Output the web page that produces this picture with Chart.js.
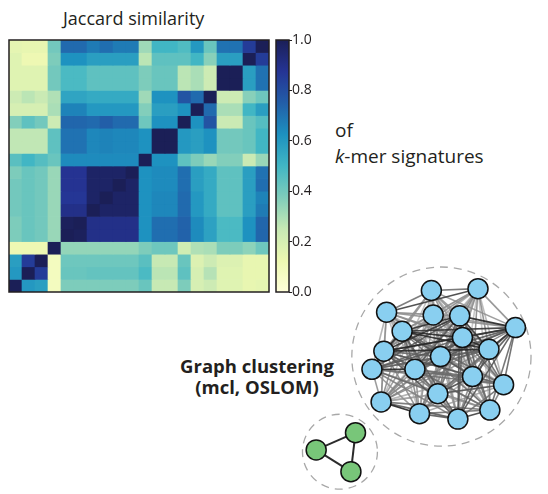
<!DOCTYPE html>
<html>
<head>
<meta charset="utf-8">
<script src="https://cdn.jsdelivr.net/npm/chart.js@4.4.1/dist/chart.umd.min.js"></script>
<style>
  html, body { margin: 0; padding: 0; background: #ffffff; }
  body { width: 548px; height: 494px; position: relative; overflow: hidden; font-family: "Open Sans", "Noto Sans", sans-serif; color: #231f20; }
  .box { position: absolute; }
  .txt { position: absolute; white-space: nowrap; }
</style>
</head>
<body>
<div class="txt" id="title" style="left:63px; top:6px; font-size:18px; line-height:25px;">Jaccard similarity</div>
<div class="txt" style="left:335px; top:117px; font-size:19px; line-height:26px;">of<br><i>k</i>-mer signatures</div>
<div class="txt" style="left:162px; top:355px; width:190px; text-align:center; font-size:18.5px; font-weight:bold; line-height:21px;">Graph clustering<br>(mcl, OSLOM)</div>

<div class="box" style="left:0px; top:30px;"><canvas id="heat" width="280" height="270"></canvas></div>
<div class="box" style="left:268px; top:0px;"><canvas id="cbar" width="62" height="310"></canvas></div>
<div class="box" style="left:280px; top:250px;"><canvas id="net" width="268" height="244"></canvas></div>

<script>
// ---------------- DATA ----------------
// Jaccard similarity matrix, rows as seen from top to bottom, columns left to right
const columnLabels = ['c1','c2','c3','c4','c5','c6','c7','c8','c9','c10','c11','c12','c13','c14','c15','c16','c17','c18','c19','c20'];
const jaccardRows = [
  [0.15,0.14,0.14,0.40,0.72,0.72,0.68,0.71,0.68,0.68,0.32,0.50,0.50,0.47,0.60,0.42,0.70,0.70,0.85,1.00],
  [0.17,0.12,0.12,0.38,0.62,0.62,0.58,0.58,0.58,0.58,0.27,0.44,0.44,0.44,0.50,0.36,0.58,0.58,1.00,0.85],
  [0.17,0.17,0.17,0.40,0.48,0.48,0.44,0.44,0.44,0.44,0.38,0.42,0.42,0.27,0.30,0.23,1.00,1.00,0.58,0.70],
  [0.17,0.17,0.17,0.40,0.48,0.48,0.44,0.44,0.44,0.44,0.38,0.42,0.42,0.27,0.30,0.23,1.00,1.00,0.58,0.70],
  [0.23,0.27,0.24,0.29,0.56,0.56,0.54,0.54,0.54,0.54,0.32,0.62,0.62,0.78,0.72,1.00,0.23,0.23,0.36,0.41],
  [0.20,0.20,0.20,0.30,0.66,0.66,0.60,0.60,0.60,0.60,0.37,0.58,0.58,0.62,1.00,0.72,0.30,0.30,0.50,0.58],
  [0.37,0.44,0.40,0.23,0.73,0.73,0.72,0.75,0.72,0.72,0.41,0.62,0.62,1.00,0.62,0.78,0.24,0.24,0.42,0.46],
  [0.26,0.26,0.26,0.44,0.70,0.70,0.65,0.66,0.65,0.65,0.62,1.00,1.00,0.60,0.58,0.62,0.40,0.40,0.42,0.50],
  [0.26,0.26,0.26,0.44,0.70,0.70,0.65,0.66,0.65,0.65,0.62,1.00,1.00,0.60,0.58,0.62,0.40,0.40,0.42,0.50],
  [0.45,0.50,0.46,0.42,0.64,0.64,0.64,0.64,0.64,0.64,1.00,0.62,0.62,0.44,0.38,0.33,0.37,0.37,0.24,0.33],
  [0.38,0.42,0.40,0.33,0.88,0.88,0.97,0.97,0.97,1.00,0.62,0.64,0.64,0.71,0.58,0.54,0.44,0.44,0.58,0.70],
  [0.40,0.42,0.40,0.33,0.88,0.88,0.97,0.97,1.00,0.97,0.62,0.64,0.64,0.71,0.58,0.54,0.44,0.44,0.58,0.71],
  [0.40,0.42,0.40,0.33,0.87,0.87,0.97,1.00,0.97,0.97,0.62,0.65,0.65,0.72,0.60,0.54,0.44,0.44,0.58,0.66],
  [0.40,0.42,0.40,0.33,0.90,0.90,1.00,0.97,0.97,0.97,0.62,0.65,0.65,0.72,0.60,0.54,0.44,0.44,0.58,0.68],
  [0.38,0.42,0.40,0.33,0.99,1.00,0.90,0.90,0.90,0.90,0.62,0.71,0.71,0.74,0.64,0.57,0.48,0.48,0.62,0.73],
  [0.38,0.42,0.40,0.33,1.00,0.99,0.90,0.90,0.90,0.90,0.62,0.71,0.71,0.74,0.64,0.57,0.48,0.48,0.62,0.73],
  [0.12,0.12,0.12,1.00,0.34,0.34,0.34,0.34,0.34,0.34,0.38,0.41,0.41,0.22,0.29,0.30,0.38,0.38,0.35,0.41],
  [0.58,0.85,1.00,0.08,0.41,0.41,0.41,0.41,0.41,0.41,0.45,0.25,0.25,0.42,0.18,0.23,0.18,0.18,0.14,0.14],
  [0.60,1.00,0.85,0.08,0.42,0.42,0.43,0.43,0.43,0.43,0.48,0.27,0.27,0.44,0.20,0.28,0.17,0.17,0.14,0.14],
  [1.00,0.60,0.58,0.08,0.38,0.38,0.38,0.38,0.38,0.38,0.42,0.25,0.25,0.38,0.20,0.23,0.17,0.17,0.14,0.15]
];
const colorbarTicks = [0, 0.2, 0.4, 0.6, 0.8, 1.0];

// Graph layout (layout units), big cluster
const clusterAX = [153,204,104,155,184,245,121,187,101,216,163, 88,135,198,232,160, 98,140,217,182];
const clusterAY = [ 32, 30, 56, 59, 60, 73, 77, 84, 99, 97,105,119,119,127,136,146,155,168,164,174];
// small cluster
const clusterBX = [70, 27, 65];
const clusterBY = [189, 208, 232];
const clusterBEdges = [[0,1],[1,2],[0,2]];
// dashed cluster outlines: centre x, centre y, radius (layout units)
const hullX = [164, 53];
const hullY = [105, 210];
const hullR = [98, 41];

// ---------------- COLOUR MAP (YlGnBu) ----------------
const cmapStops = ['#ffffd9','#edf8b1','#c7e9b4','#7fcdbb','#41b6c4','#1d91c0','#225ea8','#253494','#1b1f57'];
function hex2rgb(h){ return [parseInt(h.slice(1,3),16), parseInt(h.slice(3,5),16), parseInt(h.slice(5,7),16)]; }
function cmap(v){
  v = Math.max(0, Math.min(1, v));
  const n = cmapStops.length - 1;
  const p = v * n; const i = Math.min(n - 1, Math.floor(p)); const t = p - i;
  const a = hex2rgb(cmapStops[i]), b = hex2rgb(cmapStops[i+1]);
  return 'rgb(' + a.map((c,k) => Math.round(c + (b[k]-c)*t)).join(',') + ')';
}

Chart.defaults.font.family = '"Open Sans", "Noto Sans", sans-serif';
Chart.defaults.color = '#231f20';

const frame = {
  id: 'frame',
  afterDatasetsDraw(chart){
    const a = chart.chartArea, ctx = chart.ctx;
    ctx.save(); ctx.strokeStyle = '#231f20'; ctx.lineWidth = 1.5;
    ctx.strokeRect(a.left, a.top, a.right - a.left, a.bottom - a.top);
    ctx.restore();
  }
};

// ---------------- HEATMAP ----------------
new Chart(document.getElementById('heat'), {
  type: 'bar',
  data: {
    labels: columnLabels,
    datasets: jaccardRows.map((row, r) => ({
      label: 'row ' + (r+1),
      data: row.map(() => 1),
      backgroundColor: row.map(v => cmap(v)),
      borderWidth: 0,
      barPercentage: 1.0,
      categoryPercentage: 1.0,
      stack: 's'
    }))
  },
  options: {
    responsive: false, animation: false,
    layout: { padding: { left: 9, right: 11, top: 10, bottom: 8 } },
    plugins: { legend: { display: false }, tooltip: { enabled: false } },
    scales: {
      x: { display: false, stacked: true },
      y: { display: false, stacked: true, reverse: true, min: 0, max: jaccardRows.length }
    }
  },
  plugins: [frame]
});

// ---------------- COLOUR BAR ----------------
new Chart(document.getElementById('cbar'), {
  type: 'bar',
  data: {
    labels: [''],
    datasets: [{
      data: [[0, 1]],
      borderWidth: 0, barPercentage: 1.0, categoryPercentage: 1.0,
      backgroundColor(ctx){
        const area = ctx.chart.chartArea;
        if (!area) return '#ccc';
        const g = ctx.chart.ctx.createLinearGradient(0, area.bottom, 0, area.top);
        cmapStops.forEach((c, i) => g.addColorStop(i / (cmapStops.length - 1), c));
        return g;
      }
    }]
  },
  options: {
    responsive: false, animation: false,
    layout: { padding: { left: 8, right: 0, top: 40, bottom: 18 } },
    plugins: { legend: { display: false }, tooltip: { enabled: false } },
    scales: {
      x: { display: false },
      y: {
        position: 'right', min: 0, max: 1,
        afterFit(s){ s.width = 41; },
        afterBuildTicks(s){ s.ticks = colorbarTicks.map(v => ({ value: v })); },
        ticks: { callback: v => Number(v).toFixed(1), font: { size: 14 }, color: '#231f20', padding: 0 },
        grid: { drawOnChartArea: false, drawTicks: true, tickLength: 3, color: '#231f20', lineWidth: 1 },
        border: { display: false }
      }
    }
  },
  plugins: [frame]
});

// ---------------- NETWORK ----------------
const edgeSets = [];
const pairs = [];
for (let i = 0; i < clusterAX.length; i++) {
  for (let j = i + 1; j < clusterAX.length; j++) {
    const w = jaccardRows[jaccardRows.length - 1 - i][j];
    pairs.push([i, j, w]);
  }
}
// darker (stronger) edges first so they are drawn on top
pairs.sort((a, b) => b[2] - a[2]);
pairs.forEach(([i, j, w]) => {
  const g = Math.round(200 - 165 * Math.max(0, (w - 0.1) / 0.9));
  edgeSets.push({
    type: 'scatter', showLine: true, pointRadius: 0, borderWidth: 1.6, order: 2,
    borderColor: 'rgba(' + g + ',' + g + ',' + g + ',0.9)',
    data: [{ x: clusterAX[i], y: clusterAY[i] }, { x: clusterAX[j], y: clusterAY[j] }]
  });
});
clusterBEdges.forEach(([i, j]) => {
  edgeSets.push({
    type: 'scatter', showLine: true, pointRadius: 0, borderWidth: 2, borderColor: '#2b2b2b', order: 2,
    data: [{ x: clusterBX[i], y: clusterBY[i] }, { x: clusterBX[j], y: clusterBY[j] }]
  });
});

const hulls = {
  id: 'hulls',
  beforeDatasetsDraw(chart){
    const ctx = chart.ctx, xs = chart.scales.x, ys = chart.scales.y;
    ctx.save(); ctx.strokeStyle = '#a8a8a8'; ctx.lineWidth = 1.3; ctx.setLineDash([8, 6]);
    hullX.forEach((cx, k) => {
      const px = xs.getPixelForValue(cx), py = ys.getPixelForValue(hullY[k]);
      const r = Math.abs(xs.getPixelForValue(cx + hullR[k]) - px);
      ctx.beginPath(); ctx.arc(px, py, r, 0, Math.PI * 2); ctx.stroke();
    });
    ctx.restore();
  }
};

new Chart(document.getElementById('net'), {
  type: 'scatter',
  data: {
    datasets: [
      { data: clusterAX.map((x, i) => ({ x, y: clusterAY[i] })), order: 0, clip: false, pointRadius: 10, pointBackgroundColor: '#89cff0', pointBorderColor: '#111', pointBorderWidth: 1.5 },
      { data: clusterBX.map((x, i) => ({ x, y: clusterBY[i] })), order: 0, clip: false, pointRadius: 10, pointBackgroundColor: '#78c679', pointBorderColor: '#111', pointBorderWidth: 1.5 }
    ].concat(edgeSets)
  },
  options: {
    responsive: false, animation: false,
    layout: { padding: 0 },
    plugins: { legend: { display: false }, tooltip: { enabled: false } },
    scales: {
      x: { display: false, min: 0, max: 268 },
      y: { display: false, min: 0, max: 244, reverse: true }
    }
  },
  plugins: [hulls]
});
</script>
</body>
</html>
